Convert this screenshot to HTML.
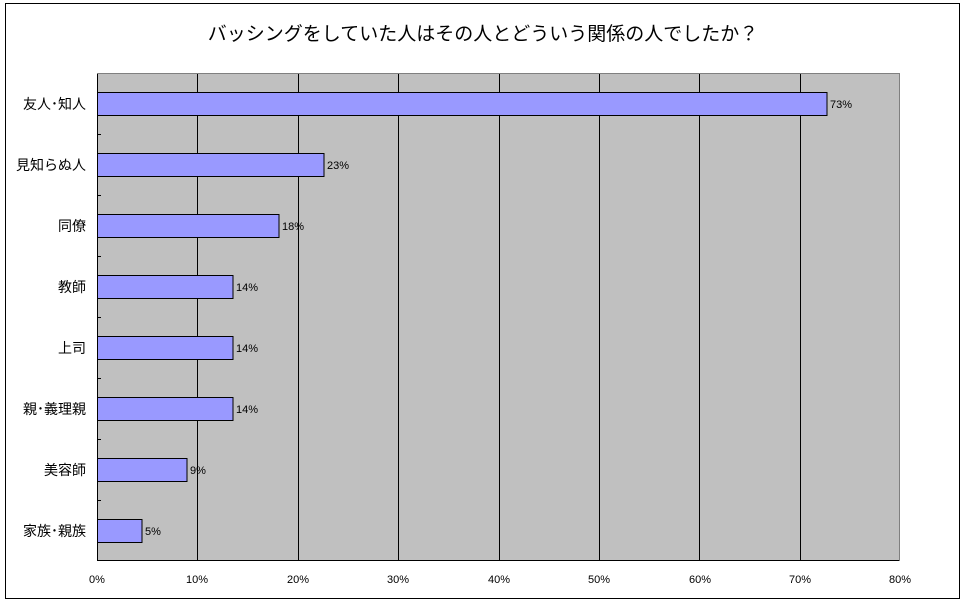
<!DOCTYPE html>
<html><head><meta charset="utf-8"><style>
body{margin:0;background:#fff;}
text{font-family:"Liberation Sans","Noto Sans CJK JP",sans-serif;}
</style></head><body>
<svg width="966" height="603" xmlns="http://www.w3.org/2000/svg">
<rect x="5.5" y="3.5" width="954" height="595" fill="#fff" stroke="#000" stroke-width="1"/>
<text x="483" y="40" text-anchor="middle" font-size="19" fill="#000">バッシングをしていた人はその人とどういう関係の人でしたか？</text>
<rect x="97" y="73" width="803" height="488" fill="#c0c0c0"/>
<g stroke="#000" stroke-width="1">
<line x1="197.5" y1="73" x2="197.5" y2="561"/>
<line x1="298.5" y1="73" x2="298.5" y2="561"/>
<line x1="398.5" y1="73" x2="398.5" y2="561"/>
<line x1="499.5" y1="73" x2="499.5" y2="561"/>
<line x1="599.5" y1="73" x2="599.5" y2="561"/>
<line x1="699.5" y1="73" x2="699.5" y2="561"/>
<line x1="800.5" y1="73" x2="800.5" y2="561"/>
<line x1="97.5" y1="73" x2="97.5" y2="561"/>
<line x1="97" y1="560.5" x2="900" y2="560.5"/>
<line x1="97" y1="73.5" x2="900" y2="73.5" stroke="#808080"/>
<line x1="899.5" y1="73" x2="899.5" y2="561" stroke="#808080"/>
<line x1="97" y1="134.5" x2="101" y2="134.5"/>
<line x1="97" y1="195.5" x2="101" y2="195.5"/>
<line x1="97" y1="256.5" x2="101" y2="256.5"/>
<line x1="97" y1="317.5" x2="101" y2="317.5"/>
<line x1="97" y1="378.5" x2="101" y2="378.5"/>
<line x1="97" y1="439.5" x2="101" y2="439.5"/>
<line x1="97" y1="500.5" x2="101" y2="500.5"/>
</g>
<g fill="#9999ff" stroke="#000" stroke-width="1">
<rect x="97.5" y="92.5" width="729.5" height="23"/>
<rect x="97.5" y="153.5" width="226.5" height="23"/>
<rect x="97.5" y="214.5" width="181.5" height="23"/>
<rect x="97.5" y="275.5" width="135.5" height="23"/>
<rect x="97.5" y="336.5" width="135.5" height="23"/>
<rect x="97.5" y="397.5" width="135.5" height="23"/>
<rect x="97.5" y="458.5" width="89.5" height="23"/>
<rect x="97.5" y="519.5" width="44.5" height="23"/>
</g>
<g font-size="11" fill="#000">
<text x="830" y="108">73%</text>
<text x="327" y="169">23%</text>
<text x="282" y="230">18%</text>
<text x="236" y="291">14%</text>
<text x="236" y="352">14%</text>
<text x="236" y="413">14%</text>
<text x="190" y="474">9%</text>
<text x="145" y="535">5%</text>
</g>
<g font-size="14" fill="#000" text-anchor="end">
<text x="86" y="109">友人･知人</text>
<text x="86" y="170">見知らぬ人</text>
<text x="86" y="231">同僚</text>
<text x="86" y="292">教師</text>
<text x="86" y="353">上司</text>
<text x="86" y="414">親･義理親</text>
<text x="86" y="475">美容師</text>
<text x="86" y="536">家族･親族</text>
</g>
<g font-size="11" fill="#000" text-anchor="middle">
<text x="97" y="583">0%</text>
<text x="197" y="583">10%</text>
<text x="298" y="583">20%</text>
<text x="398" y="583">30%</text>
<text x="499" y="583">40%</text>
<text x="599" y="583">50%</text>
<text x="700" y="583">60%</text>
<text x="800" y="583">70%</text>
<text x="900" y="583">80%</text>
</g>
</svg>
</body></html>
